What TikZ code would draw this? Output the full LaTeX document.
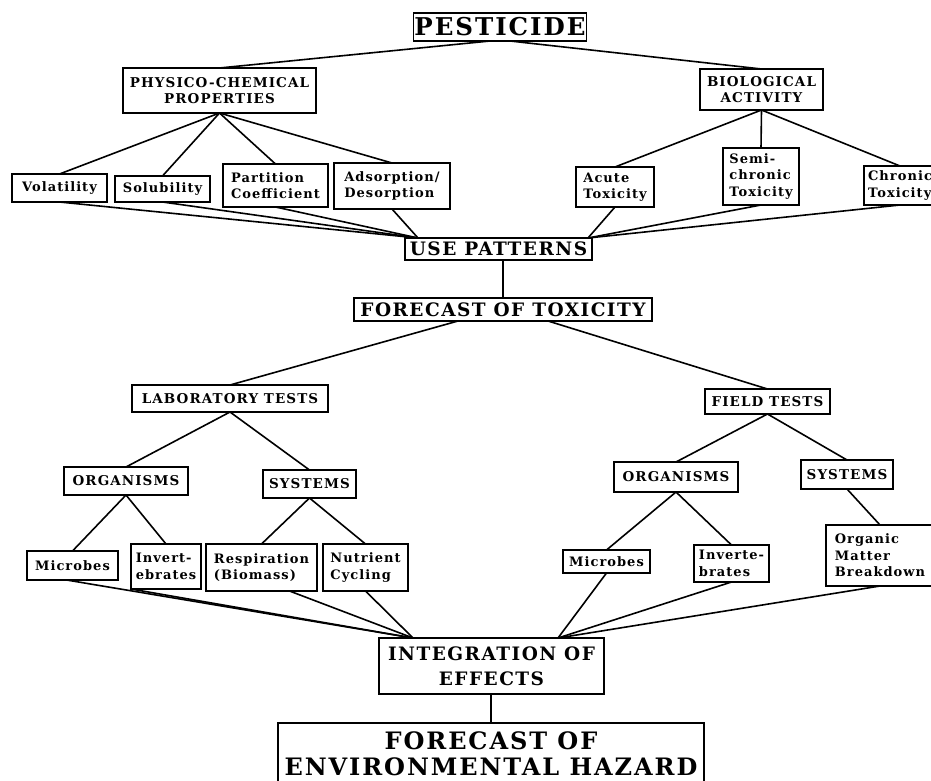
\documentclass[tikz,border=0pt]{standalone}
\usepackage{fontspec}
\setmainfont{DejaVu Serif}[LetterSpace=8]
\usetikzlibrary{calc}
\tikzset{
  box/.style={draw, line width=1.8pt, inner sep=1pt, outer sep=0pt, font=\bfseries, align=center},
  lbox/.style={box, align=left},
  link/.style={line width=1.6pt, line cap=round},
  fsmall/.style={font=\bfseries\fontsize{13}{16.5}\selectfont},
  fmid/.style={font=\bfseries\fontsize{13.5}{16}\selectfont},
  fbig/.style={font=\bfseries\fontsize{18.5}{25}\selectfont},
}
\newcommand\bx[7][]{\node[box,#1,minimum width={#4-#2},minimum height={#5-#3}] (#6) at ({(#2+#4)/2},{(#3+#5)/2}) {#7};}
\begin{document}
\begin{tikzpicture}[x=1pt,y=-1pt]
\useasboundingbox (0,0) rectangle (931,781);
% boxes
\bx[font=\bfseries\fontsize{24.5}{28}\selectfont]{415}{13}{585}{41}{pest}{PESTICIDE}
\bx[fmid]{123}{68}{316}{113}{phys}{PHYSICO-CHEMICAL\\PROPERTIES}
\bx[fmid]{700}{69}{823}{110}{bio}{BIOLOGICAL\\ACTIVITY}
\bx[fsmall]{12}{174}{107}{202}{vol}{Volatility}
\bx[fsmall]{115}{176}{210}{202}{sol}{Solubility}
\bx[lbox,fsmall]{223}{164}{328}{207}{part}{Partition\\Coefficient}
\bx[lbox,fsmall]{334}{163}{450}{209}{ads}{Adsorption/\\Desorption}
\bx[lbox,fsmall]{576}{167}{654}{207}{acute}{Acute\\Toxicity}
\bx[lbox,fsmall]{723}{148}{799}{205}{semi}{Semi-\\chronic\\Toxicity}
\bx[lbox,fsmall]{864}{166}{936}{205}{chron}{Chronic\\Toxicity}
\bx[fbig]{405}{238}{592}{260}{use}{USE PATTERNS}
\bx[fbig]{354}{298}{652}{321}{ft}{FORECAST OF TOXICITY}
\bx[fmid]{132}{385}{328}{412}{lab}{LABORATORY TESTS}
\bx[fmid]{705}{389}{830}{414}{field}{FIELD TESTS}
\bx[fmid]{64}{467}{188}{495}{orgL}{ORGANISMS}
\bx[fmid]{263}{470}{356}{498}{sysL}{SYSTEMS}
\bx[fmid]{614}{462}{738}{492}{orgR}{ORGANISMS}
\bx[fmid]{801}{460}{893}{489}{sysR}{SYSTEMS}
\bx[fsmall]{27}{551}{118}{580}{micL}{Microbes}
\bx[lbox,fsmall]{131}{544}{201}{589}{invL}{Invert-\\ebrates}
\bx[lbox,fsmall]{206}{544}{317}{591}{resp}{Respiration\\(Biomass)}
\bx[lbox,fsmall]{323}{544}{408}{591}{nut}{Nutrient\\Cycling}
\bx[fsmall]{563}{550}{650}{573}{micR}{Microbes}
\bx[lbox,fsmall]{694}{545}{769}{582}{invR}{Inverte-\\brates}
\bx[lbox,fsmall]{826}{525}{934}{586}{org}{Organic\\Matter\\Breakdown}
\bx[fbig]{379}{638}{604}{694}{integ}{INTEGRATION OF\\EFFECTS}
\node[box, font=\bfseries\fontsize{24}{26}\selectfont, anchor=north, minimum width=426, inner ysep=9pt] (haz) at (491,723) {FORECAST OF\\ENVIRONMENTAL HAZARD};
% connectors
\draw[link] ($(pest.south)+(-10,0)$) -- (phys.north);
\draw[link] ($(pest.south)+(10,0)$) -- (bio.north);
\foreach \n in {vol,sol,part,ads} \draw[link] (phys.south) -- (\n.north);
\foreach \n in {acute,semi,chron} \draw[link] (bio.south) -- (\n.north);
\coordinate (useL) at ($(use.north west)+(13,0)$);
\coordinate (useR) at ($(use.north east)+(-4,0)$);
\foreach \n in {vol,sol,part,ads} \draw[link] (\n.south) -- (useL);
\foreach \n in {acute,semi,chron} \draw[link] (\n.south) -- (useR);
\draw[link] (use.south -| ft.north) -- (ft.north);
\draw[link] ($(ft.south)+(-45,0)$) -- (lab.north);
\draw[link] ($(ft.south)+(45,0)$) -- (field.north);
\draw[link] (lab.south) -- (orgL.north);
\draw[link] (lab.south) -- (sysL.north);
\draw[link] (field.south) -- (orgR.north);
\draw[link] (field.south) -- (sysR.north);
\draw[link] (orgL.south) -- (micL.north);
\draw[link] (orgL.south) -- (invL.north);
\draw[link] (sysL.south) -- (resp.north);
\draw[link] (sysL.south) -- (nut.north);
\draw[link] (orgR.south) -- (micR.north);
\draw[link] (orgR.south) -- (invR.north);
\draw[link] (sysR.south) -- (org.north);
\coordinate (intL) at ($(integ.north west)+(34,0)$);
\coordinate (intR) at ($(integ.north east)+(-46,0)$);
\draw[link] ($(micL.south)+(-6,0)$) -- (intL);
\draw[link] (invL.south west) -- (intL);
\draw[link] ($(resp.south)+(28,0)$) -- (intL);
\draw[link] (nut.south) -- (intL);
\draw[link] (micR.south) -- (intR);
\draw[link] (invR.south) -- (intR);
\draw[link] (org.south) -- (intR);
\draw[link] (integ.south -| haz.north) -- (haz.north);
\end{tikzpicture}
\end{document}
